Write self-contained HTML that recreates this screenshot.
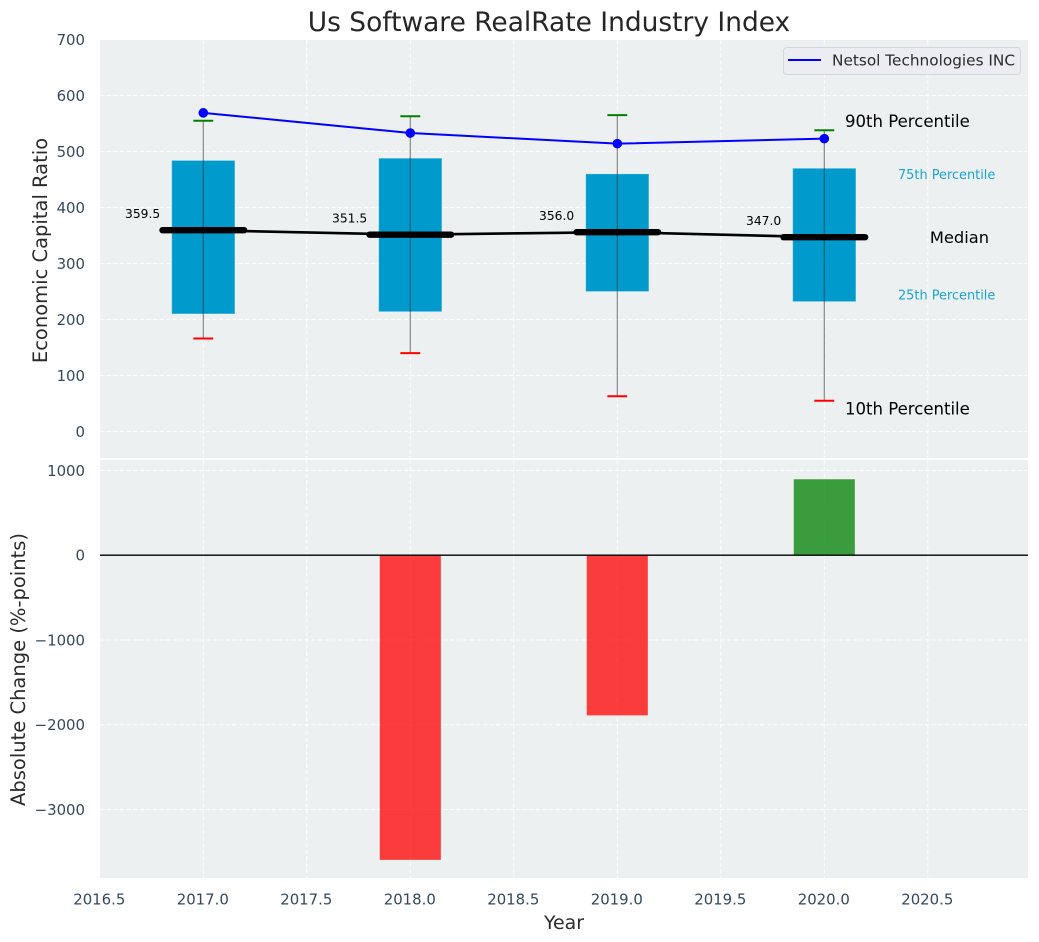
<!DOCTYPE html>
<html lang="en">
<head>
<meta charset="utf-8">
<title>Us Software RealRate Industry Index</title>
<style>
html,body{margin:0;padding:0;background:#fff;}
svg{display:block;font-family:"DejaVu Sans","Liberation Sans",sans-serif;}
.tick{font-size:14.9px;fill:#34495e;}
.axis-title{font-size:19.5px;fill:#2b2b2b;}
</style>
</head>
<body>
<svg id="chart" xmlns="http://www.w3.org/2000/svg" width="1039" height="942" viewBox="0 0 1039 942">
  <rect x="0" y="0" width="1039" height="942" fill="#ffffff"/>
  <rect x="100" y="40" width="928" height="418" fill="#ecf0f1"/>
  <rect x="100" y="460" width="928" height="418" fill="#ecf0f1"/>
  <g id="grid"></g>
  <g id="bottom-marks"></g>
  <g id="top-marks"></g>
  <g id="tick-labels"></g>
  <text x="549" y="31" text-anchor="middle" font-size="26.45" fill="#262626">Us Software RealRate Industry Index</text>
  <text class="axis-title" style="font-size:18.9px" x="564" y="929" text-anchor="middle">Year</text>
  <text class="axis-title" transform="translate(47,250.5) rotate(-90)" text-anchor="middle">Economic Capital Ratio</text>
  <text class="axis-title" transform="translate(25,669.5) rotate(-90)" text-anchor="middle">Absolute Change (%-points)</text>
  <g>
    <rect x="783.5" y="47.5" width="237" height="27" rx="3" ry="3" fill="#ebedf2" stroke="#d5d7da" stroke-width="1"/>
    <line x1="788" y1="60" x2="821" y2="60" stroke="#0000ff" stroke-width="2"/>
    <text x="832" y="65.5" font-size="15.3" fill="#2b2b2b">Netsol Technologies INC</text>
  </g>
</svg>
<script>
const years = [2017, 2018, 2019, 2020];
const p10 = [166, 140, 63, 55];
const p25 = [210, 214, 250, 232];
const medians = [359.5, 351.5, 356.0, 347.0];
const p75 = [484, 488, 460, 470];
const p90 = [555, 563, 565, 538];
const companyValues = [569, 533, 514, 523];
const changeYears = [2018, 2019, 2020];
const changeValues = [-3595, -1890, 896];
const xTicks = [2016.5, 2017, 2017.5, 2018, 2018.5, 2019, 2019.5, 2020, 2020.5];
const topYTicks = [0, 100, 200, 300, 400, 500, 600, 700];
const bottomYTicks = [1000, 0, -1000, -2000, -3000];

const NS = 'http://www.w3.org/2000/svg';
function sx(v) { return 203.3 + (v - 2017) * 207; }
function syTop(v) { return 431.5 - v * 0.56; }
function syBot(v) { return 555.2 - v * 0.08475; }
function mk(parent, tag, attrs) {
  const n = document.createElementNS(NS, tag);
  for (const k in attrs) n.setAttribute(k, attrs[k]);
  parent.appendChild(n);
  return n;
}
const gridG = document.getElementById('grid');
const topG = document.getElementById('top-marks');
const botG = document.getElementById('bottom-marks');
const tickG = document.getElementById('tick-labels');
const gridStyle = { stroke: '#ffffff', 'stroke-width': 1, 'stroke-dasharray': '4.6 2', 'stroke-opacity': 0.85 };

xTicks.forEach(function (t) {
  [[40, 458], [460, 878]].forEach(function (r) {
    const el = mk(gridG, 'line', Object.assign({ x1: sx(t), x2: sx(t), y1: r[0], y2: r[1] }, gridStyle));
    
    
  });
  const lab = mk(tickG, 'text', { class: 'tick', x: sx(t) - 0.5, y: 904.5, 'text-anchor': 'middle' });
  lab.textContent = t.toFixed(1);
  
  
});
topYTicks.forEach(function (t) {
  const el = mk(gridG, 'line', Object.assign({ x1: 100, x2: 1028, y1: syTop(t), y2: syTop(t) }, gridStyle));
  
  
  const lab = mk(tickG, 'text', { class: 'tick', x: 85, y: syTop(t) + 5.3, 'text-anchor': 'end' });
  lab.textContent = String(t);
  
  
});
bottomYTicks.forEach(function (t) {
  const el = mk(gridG, 'line', Object.assign({ x1: 100, x2: 1028, y1: syBot(t), y2: syBot(t) }, gridStyle));
  
  
  const lab = mk(tickG, 'text', { class: 'tick', x: 85, y: syBot(t) + 5.3, 'text-anchor': 'end' });
  lab.textContent = String(t).replace('-', '\u2212');
  
  
});

/* bottom panel: bars */
changeYears.forEach(function (y, i) {
  const v = changeValues[i];
  const x0 = sx(y - 0.1475), x1 = sx(y + 0.1475);
  const yA = syBot(Math.max(v, 0)), yB = syBot(Math.min(v, 0));
  const bar = mk(botG, 'rect', {
    x: x0, y: yA, width: x1 - x0, height: yB - yA,
    fill: v < 0 ? '#ff0000' : '#008000', 'fill-opacity': 0.75
  });
  
  
});
const zero = mk(botG, 'line', { x1: 100, x2: 1028, y1: syBot(0), y2: syBot(0), stroke: '#000000', 'stroke-width': 1.3 });



/* top panel: boxes */
years.forEach(function (y, i) {
  const x0 = sx(y - 0.1525), x1 = sx(y + 0.1525);
  const box = mk(topG, 'rect', {
    x: x0, y: syTop(p75[i]), width: x1 - x0, height: syTop(p25[i]) - syTop(p75[i]),
    fill: '#009acd', stroke: '#ffffff', 'stroke-opacity': 0.25, 'stroke-width': 1
  });
  
  
});
years.forEach(function (y, i) {
  const w = mk(topG, 'line', { x1: sx(y), x2: sx(y), y1: syTop(p90[i]), y2: syTop(p10[i]), stroke: '#2b2b2b', 'stroke-opacity': 0.55, 'stroke-width': 1.2 });
  
  
  const capHi = mk(topG, 'line', { x1: sx(y - 0.048), x2: sx(y + 0.048), y1: syTop(p90[i]), y2: syTop(p90[i]), stroke: '#008000', 'stroke-width': 2 });
  
  
  const capLo = mk(topG, 'line', { x1: sx(y - 0.048), x2: sx(y + 0.048), y1: syTop(p10[i]), y2: syTop(p10[i]), stroke: '#ff0000', 'stroke-width': 2 });
  
  
});

/* median trend line */
const medLine = mk(topG, 'polyline', {
  points: years.map(function (y, i) { return sx(y) + ',' + syTop(medians[i]); }).join(' '),
  fill: 'none', stroke: '#000000', 'stroke-width': 2.6
});


years.forEach(function (y, i) {
  const m = mk(topG, 'line', { x1: sx(y - 0.197), x2: sx(y + 0.197), y1: syTop(medians[i]), y2: syTop(medians[i]), stroke: '#000000', 'stroke-width': 6.4, 'stroke-linecap': 'round' });
  
  
  const t = mk(topG, 'text', { x: sx(y - 0.293), y: syTop(medians[i]) - 12.3, 'text-anchor': 'middle', 'font-size': 12.3, fill: '#000000' });
  t.textContent = medians[i].toFixed(1);
  
  
});

/* company line */
const blue = mk(topG, 'polyline', {
  points: years.map(function (y, i) { return sx(y) + ',' + syTop(companyValues[i]); }).join(' '),
  fill: 'none', stroke: '#0000ff', 'stroke-width': 2
});


years.forEach(function (y, i) {
  const c = mk(topG, 'circle', { cx: sx(y), cy: syTop(companyValues[i]), r: 4.8, fill: '#0000ff' });
  
  
});

/* percentile annotations, anchored to last year */
const last = years.length - 1;
const a90 = mk(topG, 'text', { x: sx(2020.1), y: syTop(p90[last]) - 3.2, 'font-size': 16.55, fill: '#000000' });
a90.textContent = '90th Percentile';


const a75 = mk(topG, 'text', { x: sx(2020.356), y: syTop(p75[last]) + 10.5, 'font-size': 12.9, fill: '#1ba4d2' });
a75.textContent = '75th Percentile';


const aMed = mk(topG, 'text', { x: sx(2020.51), y: syTop(medians[last]) + 6, 'font-size': 16.3, fill: '#000000' });
aMed.textContent = 'Median';


const a25 = mk(topG, 'text', { x: sx(2020.356), y: syTop(p25[last]) - 2, 'font-size': 12.9, fill: '#1ba4d2' });
a25.textContent = '25th Percentile';


const a10 = mk(topG, 'text', { x: sx(2020.1), y: syTop(p10[last]) + 14, 'font-size': 16.55, fill: '#000000' });
a10.textContent = '10th Percentile';


</script>
</body>
</html>
